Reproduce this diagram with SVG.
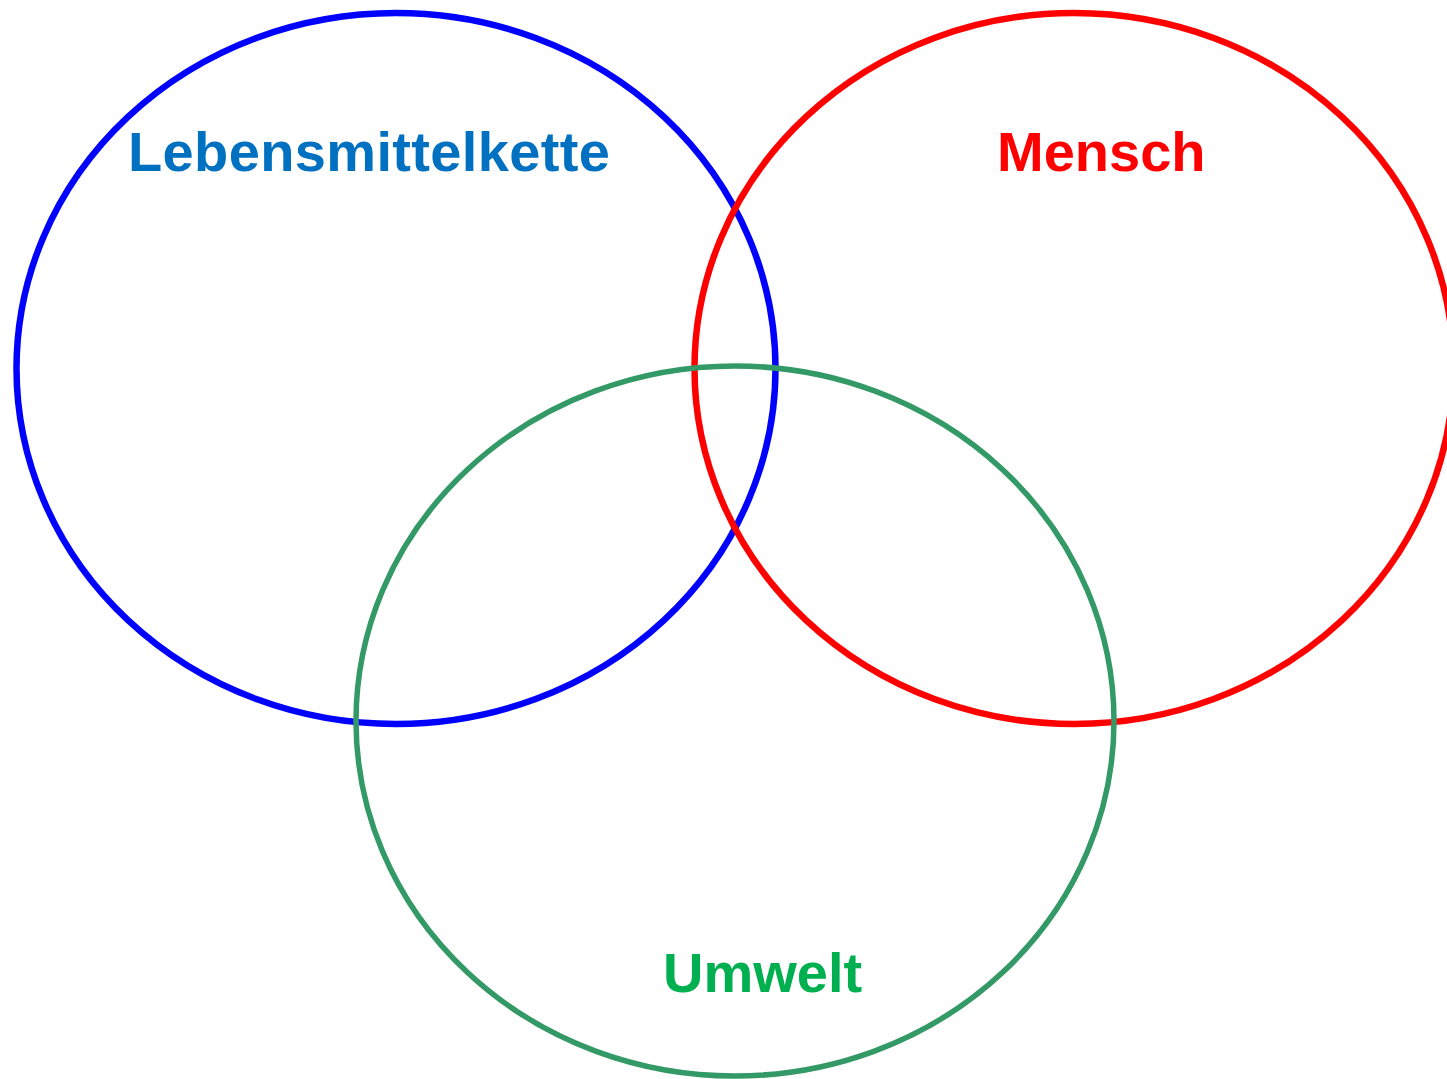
<svg xmlns="http://www.w3.org/2000/svg" width="1447" height="1079" viewBox="0 0 1447 1079">
<style>
.c{fill:none}
.t{font-family:"Liberation Sans",Arial,sans-serif;font-weight:bold;font-size:56px}
</style>
<rect width="1447" height="1079" fill="#fff"/>
<g id="lebensmittelkette">
<ellipse class="c" cx="396" cy="368.5" rx="379.5" ry="355.5" stroke="#0000FF" stroke-width="6.5"/>
<text class="t" x="128" y="171" fill="#0070C0" textLength="482" lengthAdjust="spacing">Lebensmittelkette</text>
</g>
<g id="mensch">
<ellipse class="c" cx="1074" cy="368.5" rx="379.5" ry="355.5" stroke="#FF0000" stroke-width="6.5"/>
<text class="t" x="997" y="171" fill="#FF0000">Mensch</text>
</g>
<g id="umwelt">
<ellipse class="c" cx="735" cy="721" rx="379" ry="355" stroke="#339966" stroke-width="5.5"/>
<text class="t" x="663" y="992" fill="#00B050">Umwelt</text>
</g>
<g id="connectors"></g>
</svg>
